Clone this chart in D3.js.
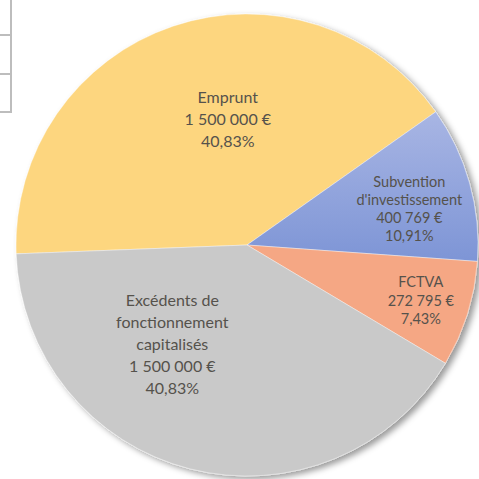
<!DOCTYPE html>
<html>
<head>
<meta charset="utf-8">
<script src="https://cdn.jsdelivr.net/npm/d3@7"></script>
<style>
  html, body { margin: 0; padding: 0; background: #fff; }
  svg { display: block; }
</style>
</head>
<body>
<div id="grafico"></div>
<script>
// Données du graphique
const categories = ['Emprunt', "Subvention d'investissement", 'FCTVA', 'Excédents de fonctionnement capitalisés'];
const montants = [1500000, 400769, 272795, 1500000];
const pourcentages = ['40,83%', '10,91%', '7,43%', '40,83%'];
const libelles = [
  ['Emprunt'],
  ['Subvention', "d'investissement"],
  ['FCTVA'],
  ['Excédents de', 'fonctionnement', 'capitalisés']
];

function creerCamembert() {
  const largeur = 479;
  const hauteur = 479;
  const cx = 247, cy = 245;
  const rayon = 231;

  const couleurs = ['#fdd67f', 'url(#gradBleu)', '#f5a784', '#c9c9c9'];
  // placement des étiquettes (fraction du rayon, décalage angulaire en degrés)
  const placement = [
    { r: 0.55, da: 10, taille: 16, pas: 22 },
    { r: 0.72, da: 3, taille: 14.5, pas: 18 },
    { r: 0.79, da: 0.3, taille: 14.5, pas: 18.5 },
    { r: 0.54, da: 22.5, taille: 16, pas: 22 }
  ];

  const svg = d3.select('#grafico')
    .append('svg')
    .attr('width', largeur)
    .attr('height', hauteur);

  const defs = svg.append('defs');
  const grad = defs.append('linearGradient')
    .attr('id', 'gradBleu')
    .attr('gradientUnits', 'userSpaceOnUse')
    .attr('x1', 0).attr('y1', -135).attr('x2', 0).attr('y2', 25);
  grad.append('stop').attr('offset', '0%').attr('stop-color', '#a9b6e4');
  grad.append('stop').attr('offset', '100%').attr('stop-color', '#7b93d5');

  const ombre = defs.append('filter')
    .attr('id', 'ombre')
    .attr('x', '-10%').attr('y', '-10%')
    .attr('width', '120%').attr('height', '120%');
  ombre.append('feDropShadow')
    .attr('dx', 4).attr('dy', 3)
    .attr('stdDeviation', 3)
    .attr('flood-color', '#000')
    .attr('flood-opacity', 0.4);

  // bordures du tableau en haut à gauche
  const tableau = svg.append('g')
    .attr('stroke', '#bdbdbd')
    .attr('stroke-width', 2);
  tableau.append('line').attr('x1', 11).attr('y1', 0).attr('x2', 11).attr('y2', 113);
  [35, 74, 112].forEach((y) => {
    tableau.append('line').attr('x1', 0).attr('y1', y).attr('x2', 11).attr('y2', y);
  });

  const pie = d3.pie()
    .sort(null)
    .value((d) => d)
    .startAngle(-92.2 * Math.PI / 180)
    .endAngle((360 - 92.2) * Math.PI / 180);

  const arcs = pie(montants);
  const arc = d3.arc().innerRadius(0).outerRadius(rayon);

  const g = svg.append('g')
    .attr('transform', `translate(${cx},${cy})`);

  g.append('g')
    .attr('filter', 'url(#ombre)')
    .selectAll('path')
    .data(arcs)
    .enter()
    .append('path')
    .attr('d', arc)
    .attr('fill', (d, i) => couleurs[i])
    .attr('stroke', '#ffffff')
    .attr('stroke-opacity', 0.5)
    .attr('stroke-width', 0.8);

  const fmt = d3.formatLocale({ decimal: ',', thousands: ' ', grouping: [3], currency: ['', ' €'] }).format('$,.0f');

  arcs.forEach((d, i) => {
    const p = placement[i];
    const a = (d.startAngle + d.endAngle) / 2 + p.da * Math.PI / 180;
    const r = rayon * p.r;
    const x = Math.sin(a) * r;
    const y = -Math.cos(a) * r;
    const lignes = libelles[i].concat([fmt(montants[i]), pourcentages[i]]);
    const y0 = y - (lignes.length - 1) * p.pas / 2;
    const txt = g.append('text')
      .attr('text-anchor', 'middle')
      .attr('font-family', 'Lato, sans-serif')
      .attr('font-size', p.taille)
      .attr('fill', '#55524c');
    lignes.forEach((l, k) => {
      txt.append('tspan')
        .attr('x', x)
        .attr('y', y0 + k * p.pas)
        .attr('dy', '0.35em')
        .text(l);
    });
  });
}

creerCamembert();
</script>
</body>
</html>
